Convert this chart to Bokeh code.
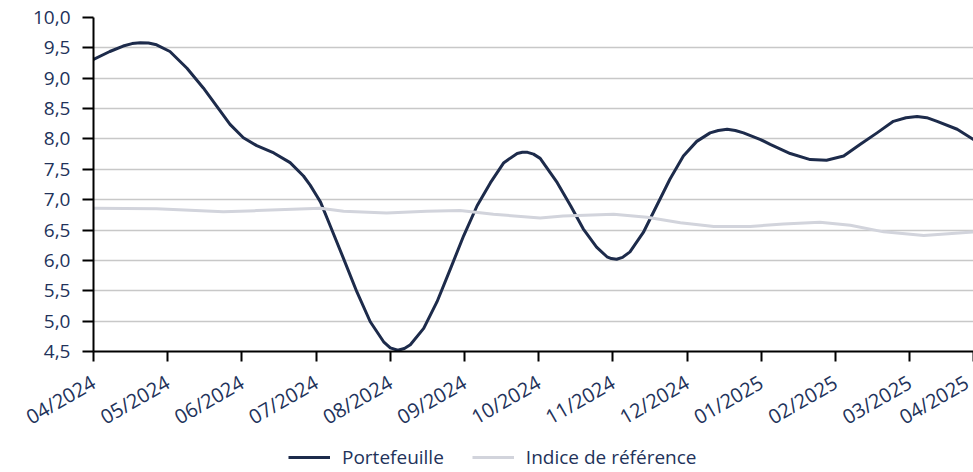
import math
from bokeh.plotting import figure
from bokeh.layouts import column
from bokeh.models import FixedTicker, Legend, LegendItem, Range1d
from bokeh.embed import file_html
from bokeh.resources import INLINE

# ---- data (x = months since 04/2024) ----
month_labels = ["04/2024", "05/2024", "06/2024", "07/2024", "08/2024", "09/2024",
                "10/2024", "11/2024", "12/2024", "01/2025", "02/2025", "03/2025", "04/2025"]
y_ticks = [4.5, 5.0, 5.5, 6.0, 6.5, 7.0, 7.5, 8.0, 8.5, 9.0, 9.5, 10.0]
y_tick_labels = ["4,5", "5,0", "5,5", "6,0", "6,5", "7,0", "7,5", "8,0", "8,5", "9,0", "9,5", "10,0"]
series_names = ["Portefeuille", "Indice de référence"]

portefeuille_x = [0.00, 0.22, 0.40, 0.52, 0.63, 0.74, 0.85, 1.03, 1.26, 1.48, 1.66, 1.84,
                  2.02, 2.20, 2.43, 2.65, 2.83, 2.92, 3.01, 3.06, 3.19, 3.37, 3.55, 3.73,
                  3.91, 4.00, 4.10, 4.19, 4.27, 4.45, 4.63, 4.81, 4.99, 5.17, 5.35, 5.53,
                  5.71, 5.78, 5.85, 5.93, 6.02, 6.25, 6.43, 6.60, 6.78, 6.92, 6.98, 7.05,
                  7.13, 7.23, 7.41, 7.59, 7.77, 7.95, 8.13, 8.31, 8.42, 8.54, 8.65, 8.76,
                  8.99, 9.12, 9.39, 9.66, 9.88, 10.11, 10.33, 10.56, 10.78, 10.95, 11.10,
                  11.23, 11.37, 11.64, 11.86]
portefeuille_y = [9.31, 9.44, 9.53, 9.57, 9.585, 9.58, 9.55, 9.44, 9.165, 8.84, 8.54, 8.24,
                  8.02, 7.89, 7.77, 7.61, 7.39, 7.24, 7.06, 6.96, 6.57, 6.03, 5.48, 4.99,
                  4.66, 4.56, 4.52, 4.55, 4.61, 4.88, 5.32, 5.86, 6.41, 6.90, 7.28, 7.61,
                  7.76, 7.78, 7.78, 7.75, 7.68, 7.28, 6.90, 6.52, 6.22, 6.06, 6.03, 6.02,
                  6.05, 6.14, 6.46, 6.90, 7.34, 7.72, 7.96, 8.10, 8.14, 8.16, 8.14, 8.10,
                  7.99, 7.91, 7.76, 7.66, 7.65, 7.72, 7.91, 8.10, 8.29, 8.35, 8.37,
                  8.35, 8.29, 8.16, 7.99]

indice_x = [0.00, 0.85, 1.75, 2.20, 3.06, 3.37, 3.95, 4.49, 4.94, 5.39, 6.02, 6.33,
            7.01, 7.46, 7.91, 8.36, 8.85, 9.30, 9.79, 10.20, 10.65, 11.19, 11.86]
indice_y = [6.86, 6.85, 6.80, 6.82, 6.86, 6.81, 6.78, 6.81, 6.82, 6.76, 6.70, 6.73,
            6.76, 6.71, 6.62, 6.56, 6.56, 6.60, 6.63, 6.58, 6.47, 6.41, 6.47]

X_END = 11.86  # visible end of the time axis (the chart is cropped just before 04/2025)

NAVY = "#1d2b4b"
GREY = "#d2d4dc"
TEXT = "#22325a"
FONT = "Open Sans"

# ---------------- main chart ----------------
p = figure(width=973, height=444, output_backend="svg", toolbar_location=None,
           x_range=Range1d(0, X_END), y_range=Range1d(4.5, 10.0),
           min_border_left=93, min_border_right=0, min_border_top=17, min_border_bottom=91)
p.outline_line_color = None
p.background_fill_color = "white"
p.border_fill_color = "white"

p.xgrid.visible = False
p.ygrid.grid_line_color = "#c8c8c8"
p.ygrid.grid_line_width = 1.5
p.ygrid.ticker = FixedTicker(ticks=y_ticks)

for ax in (p.xaxis[0], p.yaxis[0]):
    ax.axis_line_color = "black"
    ax.axis_line_width = 2
    ax.major_tick_line_color = "black"
    ax.major_tick_line_width = 2
    ax.major_tick_in = 0
    ax.minor_tick_line_color = None
    ax.major_label_text_font = FONT
    ax.major_label_text_color = TEXT

p.yaxis.ticker = FixedTicker(ticks=y_ticks)
p.yaxis.major_label_overrides = dict(zip(y_ticks, y_tick_labels))
p.yaxis.major_tick_out = 11
p.yaxis.major_label_standoff = 12
p.yaxis.major_label_text_font_size = "19px"

# month ticks; the last label sits at the cropped right edge
month_pos = list(range(len(month_labels) - 1)) + [X_END]
p.xaxis.ticker = FixedTicker(ticks=month_pos)
p.xaxis.major_label_overrides = dict(zip(month_pos, month_labels))
p.xaxis.major_label_orientation = math.pi / 6
p.xaxis.major_tick_out = 10
p.xaxis.major_label_standoff = 19
p.xaxis.major_label_text_font_size = "20px"

p.line(portefeuille_x, portefeuille_y, line_width=3, line_color=NAVY,
       line_join="round", line_cap="round")
p.line(indice_x, indice_y, line_width=3, line_color=GREY,
       line_join="round", line_cap="round")

# ---------------- legend strip ----------------
lg = figure(width=973, height=28, output_backend="svg", toolbar_location=None,
            x_range=Range1d(0, 1), y_range=Range1d(0, 1),
            x_axis_location=None, y_axis_location=None, min_border=0)
lg.outline_line_color = None
lg.grid.visible = False
lg.background_fill_color = "white"
lg.border_fill_color = "white"
# same series (outside this strip's view) only to give the legend its keys
k1 = lg.line(portefeuille_x, portefeuille_y, line_width=3, line_color=NAVY)
k2 = lg.line(indice_x, indice_y, line_width=3, line_color=GREY)
legend = Legend(items=[LegendItem(label=series_names[0], renderers=[k1]),
                       LegendItem(label=series_names[1], renderers=[k2])],
                orientation="horizontal", location=(195, 2),
                padding=0, margin=0, spacing=28, glyph_width=42, glyph_height=22,
                label_height=22, label_standoff=12,
                label_text_font=FONT, label_text_font_size="19px", label_text_color=TEXT,
                background_fill_alpha=0, border_line_color=None)
lg.add_layout(legend)

page = column(p, lg, spacing=0)
open("out.html", "w").write(file_html(page, INLINE))
